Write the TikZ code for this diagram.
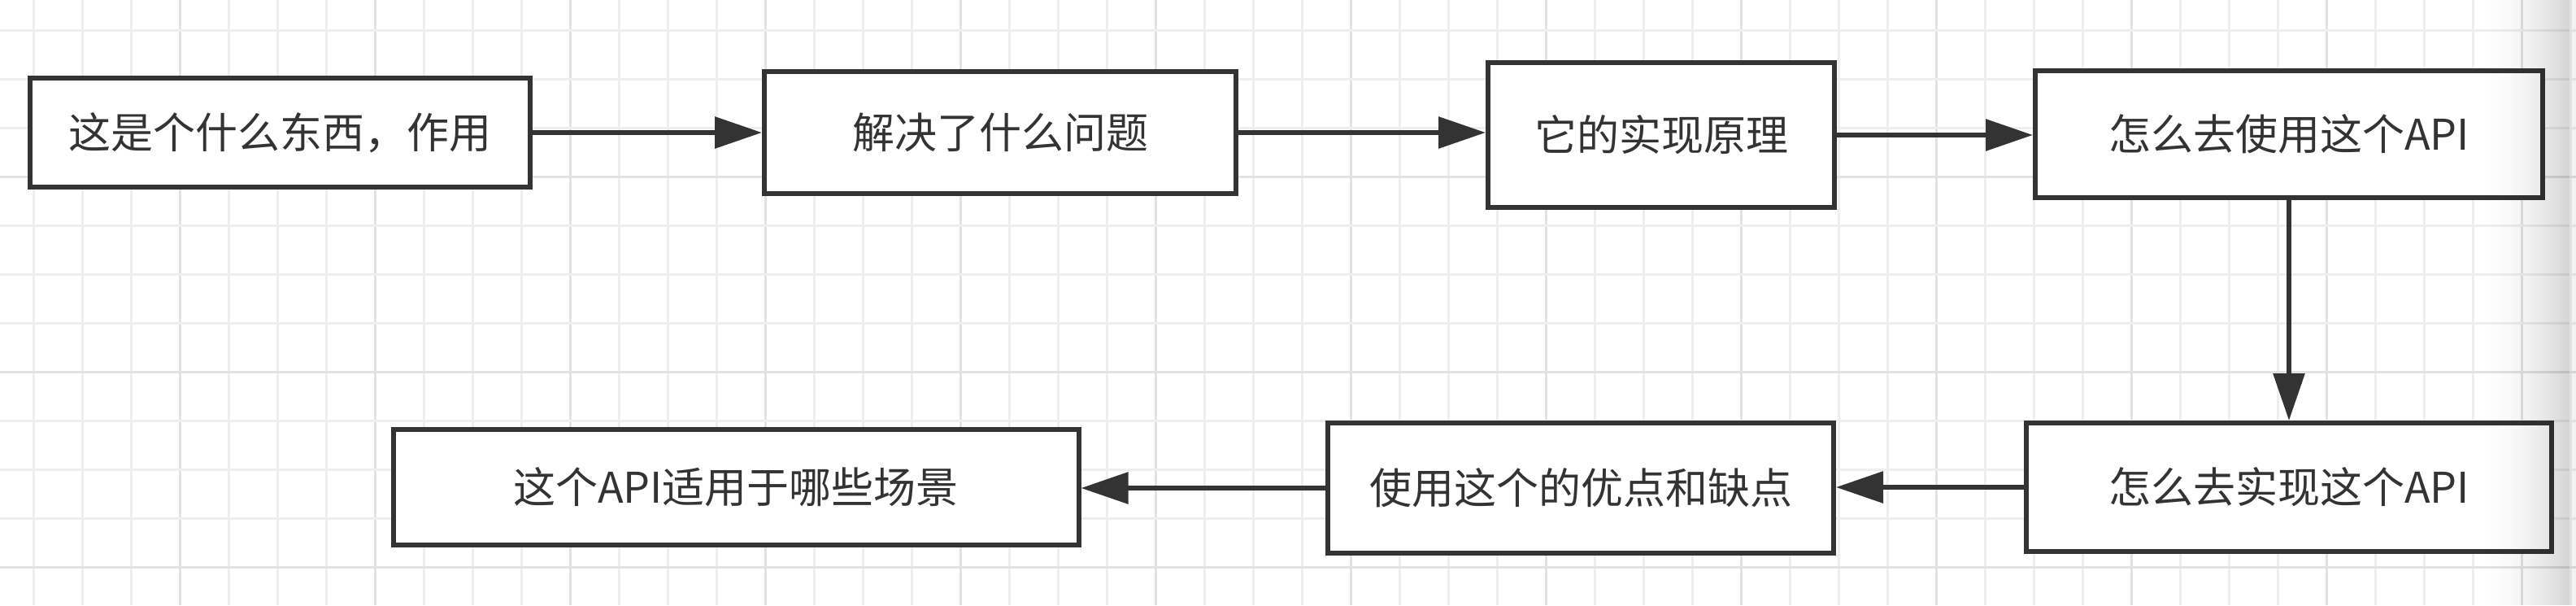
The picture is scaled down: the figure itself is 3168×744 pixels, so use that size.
\documentclass[tikz,border=0pt]{standalone}
\usepackage{fontspec}
\newfontfamily\cjk{Noto Sans CJK SC}
\usetikzlibrary{arrows.meta}
\definecolor{linec}{HTML}{333333}
\definecolor{textc}{HTML}{333333}
\definecolor{gridminor}{HTML}{EEEEEE}
\definecolor{gridmajor}{HTML}{E2E2E2}
\begin{document}
\begin{tikzpicture}[x=1pt,y=-1pt,
  box/.style={draw=linec, line width=6pt, fill=white, inner sep=0pt,
    font=\cjk\fontsize{52}{60}\selectfont, text=textc},
  conn/.style={draw=linec, line width=6pt, -{Triangle[length=58pt,width=38pt]}},
  gridmin/.style={draw=gridminor, line width=3pt},
  gridmaj/.style={draw=gridmajor, line width=3.5pt}
]
\useasboundingbox (0,0) rectangle (3168,744);
\fill[white] (0,0) rectangle (3168,744);
% grid
\foreach \k in {0,...,52}{
  \pgfmathsetmacro{\gx}{41.7+60*\k}
  \pgfmathtruncatemacro{\m}{mod(\k,4)}
  \ifnum\m=3
    \draw[gridmaj] (\gx,0) -- (\gx,744);
  \else
    \draw[gridmin] (\gx,0) -- (\gx,744);
  \fi
}
\foreach \k in {0,...,11}{
  \pgfmathsetmacro{\gy}{37.3+60*\k}
  \pgfmathtruncatemacro{\m}{mod(\k,4)}
  \ifnum\m=3
    \draw[gridmaj] (0,\gy) -- (3168,\gy);
  \else
    \draw[gridmin] (0,\gy) -- (3168,\gy);
  \fi
}
% boxes
\node[box, minimum width=615pt, minimum height=134pt] (b1) at (344.5,163) {这是个什么东西，作用};
\node[box, minimum width=580pt, minimum height=150pt] (b2) at (1230,163) {解决了什么问题};
\node[box, minimum width=426pt, minimum height=178pt] (b3) at (2043,166) {它的实现原理};
\node[box, minimum width=624pt, minimum height=156pt] (b4) at (2815,165) {怎么去使用这个API};
\node[box, minimum width=646pt, minimum height=158pt] (b5) at (2815,599) {怎么去实现这个API};
\node[box, minimum width=622pt, minimum height=160pt] (b6) at (1944,600) {使用这个的优点和缺点};
\node[box, minimum width=843pt, minimum height=142pt] (b7) at (905,599) {这个API适用于哪些场景};
% connectors
\draw[conn] (b1.east) -- (b2.west);
\draw[conn] (b2.east) -- (b2.east -| b3.west);
\draw[conn] (b3.east) -- (b3.east -| b4.west);
\draw[conn] (b4.south) -- (b5.north);
\draw[conn] (b5.west) -- (b5.west -| b6.east);
\draw[conn] (b6.west) -- (b6.west -| b7.east);
% right edge shadow
\foreach \i in {0,...,39}{
  \pgfmathsetmacro{\sx}{3040+3*\i}
  \pgfmathsetmacro{\op}{0.17*(\i/40)^2}
  \fill[black, fill opacity=\op] (\sx,0) rectangle (\sx+3.05,744);
}
\fill[black, fill opacity=0.05] (3160,0) rectangle (3168,744);
\end{tikzpicture}
\end{document}
